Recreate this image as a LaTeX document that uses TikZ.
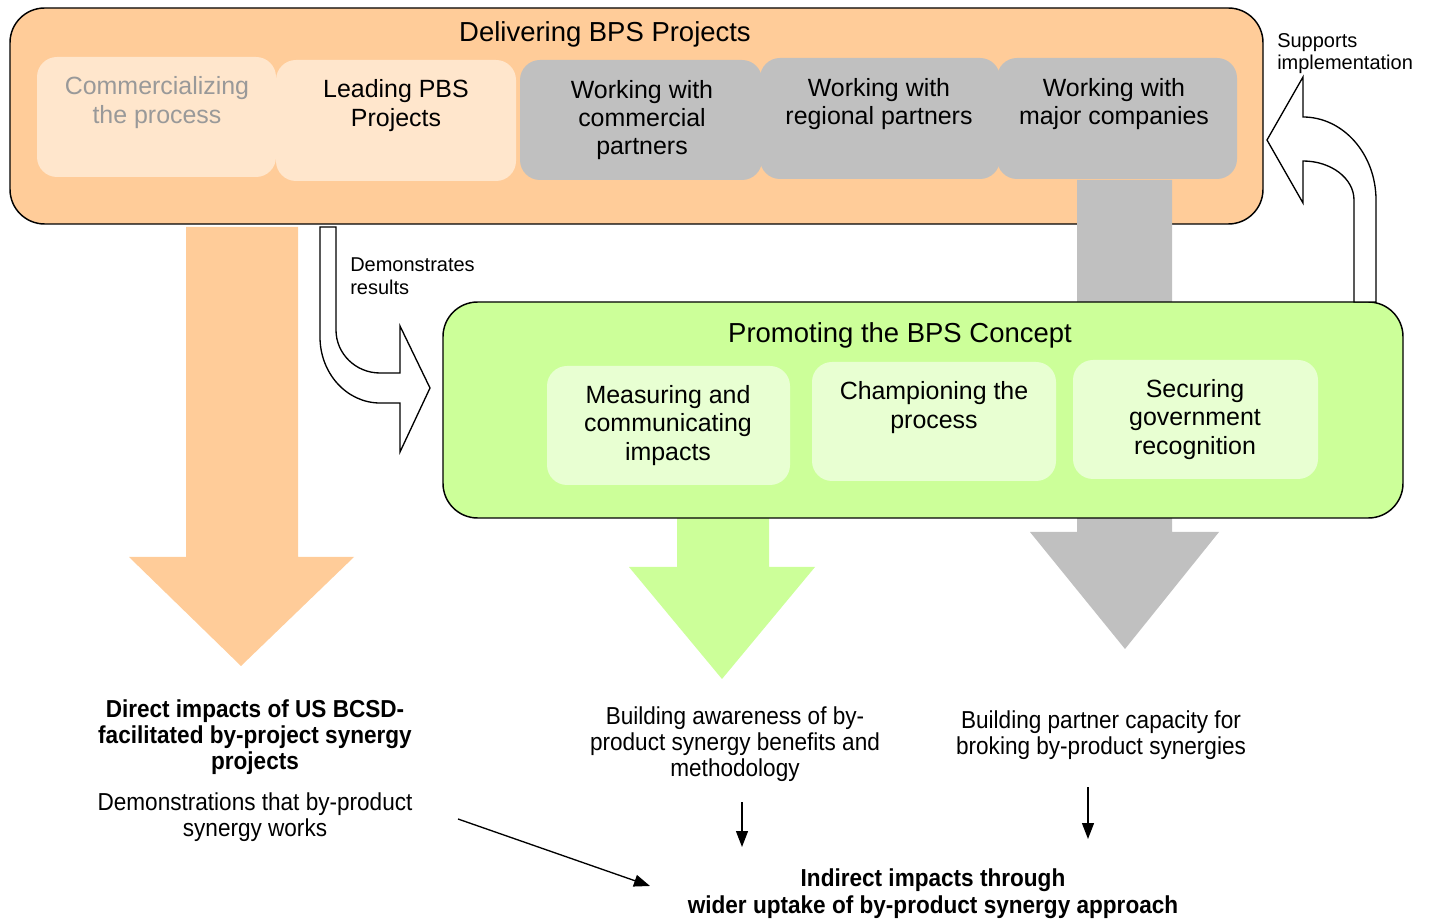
\documentclass[tikz,border=0pt]{standalone}
\usepackage{fontspec}
\setmainfont{Liberation Sans}
\newfontfamily\narrowsans[FakeStretch=0.92]{Liberation Sans}
\usetikzlibrary{arrows.meta}

\definecolor{peach}{HTML}{FFCC99}
\definecolor{lightpeach}{HTML}{FFE6CC}
\definecolor{panelgray}{HTML}{C0C0C0}
\definecolor{lime}{HTML}{CCFF99}
\definecolor{lightlime}{HTML}{E8FFD2}
\definecolor{mutedtext}{HTML}{999999}

\begin{document}
\begin{tikzpicture}[x=0.75pt,y=-0.75pt,
  panel/.style={draw=black, line width=1.1pt, rounded corners=26pt, inner sep=0pt},
  tile/.style={rounded corners=15pt, inner sep=0pt},
  titletext/.style={font=\fontsize{20.6}{24}\selectfont, inner sep=0pt},
  tiletext/.style={font=\fontsize{18.7}{21.2}\selectfont, align=center, inner sep=0pt},
  notetext/.style={font=\fontsize{15}{16.9}\selectfont, align=left, inner sep=0pt, anchor=west},
  outcome/.style={font=\narrowsans\fontsize{18.4}{19.5}\selectfont, align=center, inner sep=0pt},
  bentarrow/.style={draw=black, line width=1pt, fill=white, line join=miter},
  link/.style={line width=1pt, -{Triangle[length=12pt,width=9pt]}}]

\useasboundingbox (0,0) rectangle (1429,919);

% ---------- Delivering BPS Projects ----------
\node[panel, fill=peach, minimum width=1253*0.75pt, minimum height=216*0.75pt]
  (deliver) at (636.5,116) {};
\node[titletext] (deliver-title) at (605,34) {Delivering BPS Projects};

\node[tile, fill=lightpeach, minimum width=239*0.75pt, minimum height=120*0.75pt] (commerc) at (156.5,117) {};
\node[tile, fill=lightpeach, minimum width=240*0.75pt, minimum height=121*0.75pt] (leading) at (396,120.5) {};
\node[tile, fill=panelgray, minimum width=242*0.75pt, minimum height=120*0.75pt] (wcomm) at (641,120) {};
\node[tile, fill=panelgray, minimum width=240*0.75pt, minimum height=121*0.75pt] (wreg) at (880,118.5) {};
\node[tile, fill=panelgray, minimum width=240*0.75pt, minimum height=121*0.75pt] (wmajor) at (1117,118.5) {};

\node[tiletext, text=mutedtext] (commerc-text) at (157,102.5) {Commercializing\\the process};
\node[tiletext] (leading-text) at (396,105.5) {Leading PBS\\Projects};
\node[tiletext] (wcomm-text) at (642,120) {Working with\\commercial\\partners};
\node[tiletext] (wreg-text) at (879,104) {Working with\\regional partners};
\node[tiletext] (wmajor-text) at (1114,104) {Working with\\major companies};

% ---------- broad outcome arrows ----------
\fill[panelgray] (1077,180) -- (1172,180) -- (1172,532) -- (1219,532) -- (1125,649)
  -- (1030,532) -- (1077,532) -- cycle;
\fill[peach] (186,227) -- (298,227) -- (298,557) -- (354,557) -- (241,666)
  -- (129,557) -- (186,557) -- cycle;
\fill[lime] (677,518) -- (769,518) -- (769,567) -- (815,567) -- (722,679)
  -- (629,567) -- (677,567) -- cycle;

% ---------- Promoting the BPS Concept ----------
\node[panel, fill=lime, minimum width=960*0.75pt, minimum height=216*0.75pt]
  (promote) at (923,410) {};
\node[titletext] (promote-title) at (900,335) {Promoting the BPS Concept};

\node[tile, fill=lightlime, minimum width=243*0.75pt, minimum height=119*0.75pt] (measure) at (668.5,425.5) {};
\node[tile, fill=lightlime, minimum width=244*0.75pt, minimum height=119*0.75pt] (champ) at (934,421.5) {};
\node[tile, fill=lightlime, minimum width=245*0.75pt, minimum height=119*0.75pt] (secure) at (1195.5,419.5) {};

\node[tiletext] (measure-text) at (668,425.5) {Measuring and\\communicating\\impacts};
\node[tiletext] (champ-text) at (934,407.5) {Championing the\\process};
\node[tiletext] (secure-text) at (1195,419.5) {Securing\\government\\recognition};

% ---------- bent feedback arrows ----------
\draw[bentarrow] (320,227) -- (336,227) -- (336,330)
  .. controls (336,353.7) and (355.7,373) .. (380,373)
  -- (400,373) -- (400,326) -- (430,388) -- (400,452) -- (400,403) -- (380,403)
  .. controls (346.9,403) and (320,373.5) .. (320,337) -- cycle;
\node[notetext] (demo-label) at (350,276) {Demonstrates\\results};

\draw[bentarrow] (1354,302) -- (1354,200)
  .. controls (1354,178.5) and (1331.2,161) .. (1303,161)
  -- (1303,203) -- (1267,140) -- (1303,77) -- (1303,117)
  .. controls (1343.3,117) and (1376,154.2) .. (1376,200)
  -- (1376,302) -- cycle;
\node[notetext] (supp-label) at (1277,53.5) {Supports\\implementation};

% ---------- outcomes ----------
\node[outcome, font=\narrowsans\bfseries\fontsize{18.4}{19.5}\selectfont] (direct) at (255,737)
  {Direct impacts of US BCSD-\\facilitated by-project synergy\\projects};
\node[outcome] (demos) at (255,817) {Demonstrations that by-product\\synergy works};
\node[outcome] (aware) at (735,744.5) {Building awareness of by-\\product synergy benefits and\\methodology};
\node[outcome] (capacity) at (1101,735) {Building partner capacity for\\broking by-product synergies};
\node[outcome, font=\narrowsans\bfseries\fontsize{18.4}{20}\selectfont] (indirect) at (933,893.5)
  {Indirect impacts through\\wider uptake of by-product synergy approach};

\coordinate (demos-out) at (458,819);
\coordinate (indirect-left) at (650,886);
\coordinate (aware-out) at (742,802);
\coordinate (indirect-mid) at (742,847);
\coordinate (capacity-out) at (1088,787);
\coordinate (indirect-right) at (1088,839);

\draw[link] (demos-out) -- (indirect-left);
\draw[link] (aware-out) -- (indirect-mid);
\draw[link] (capacity-out) -- (indirect-right);

\end{tikzpicture}
\end{document}
